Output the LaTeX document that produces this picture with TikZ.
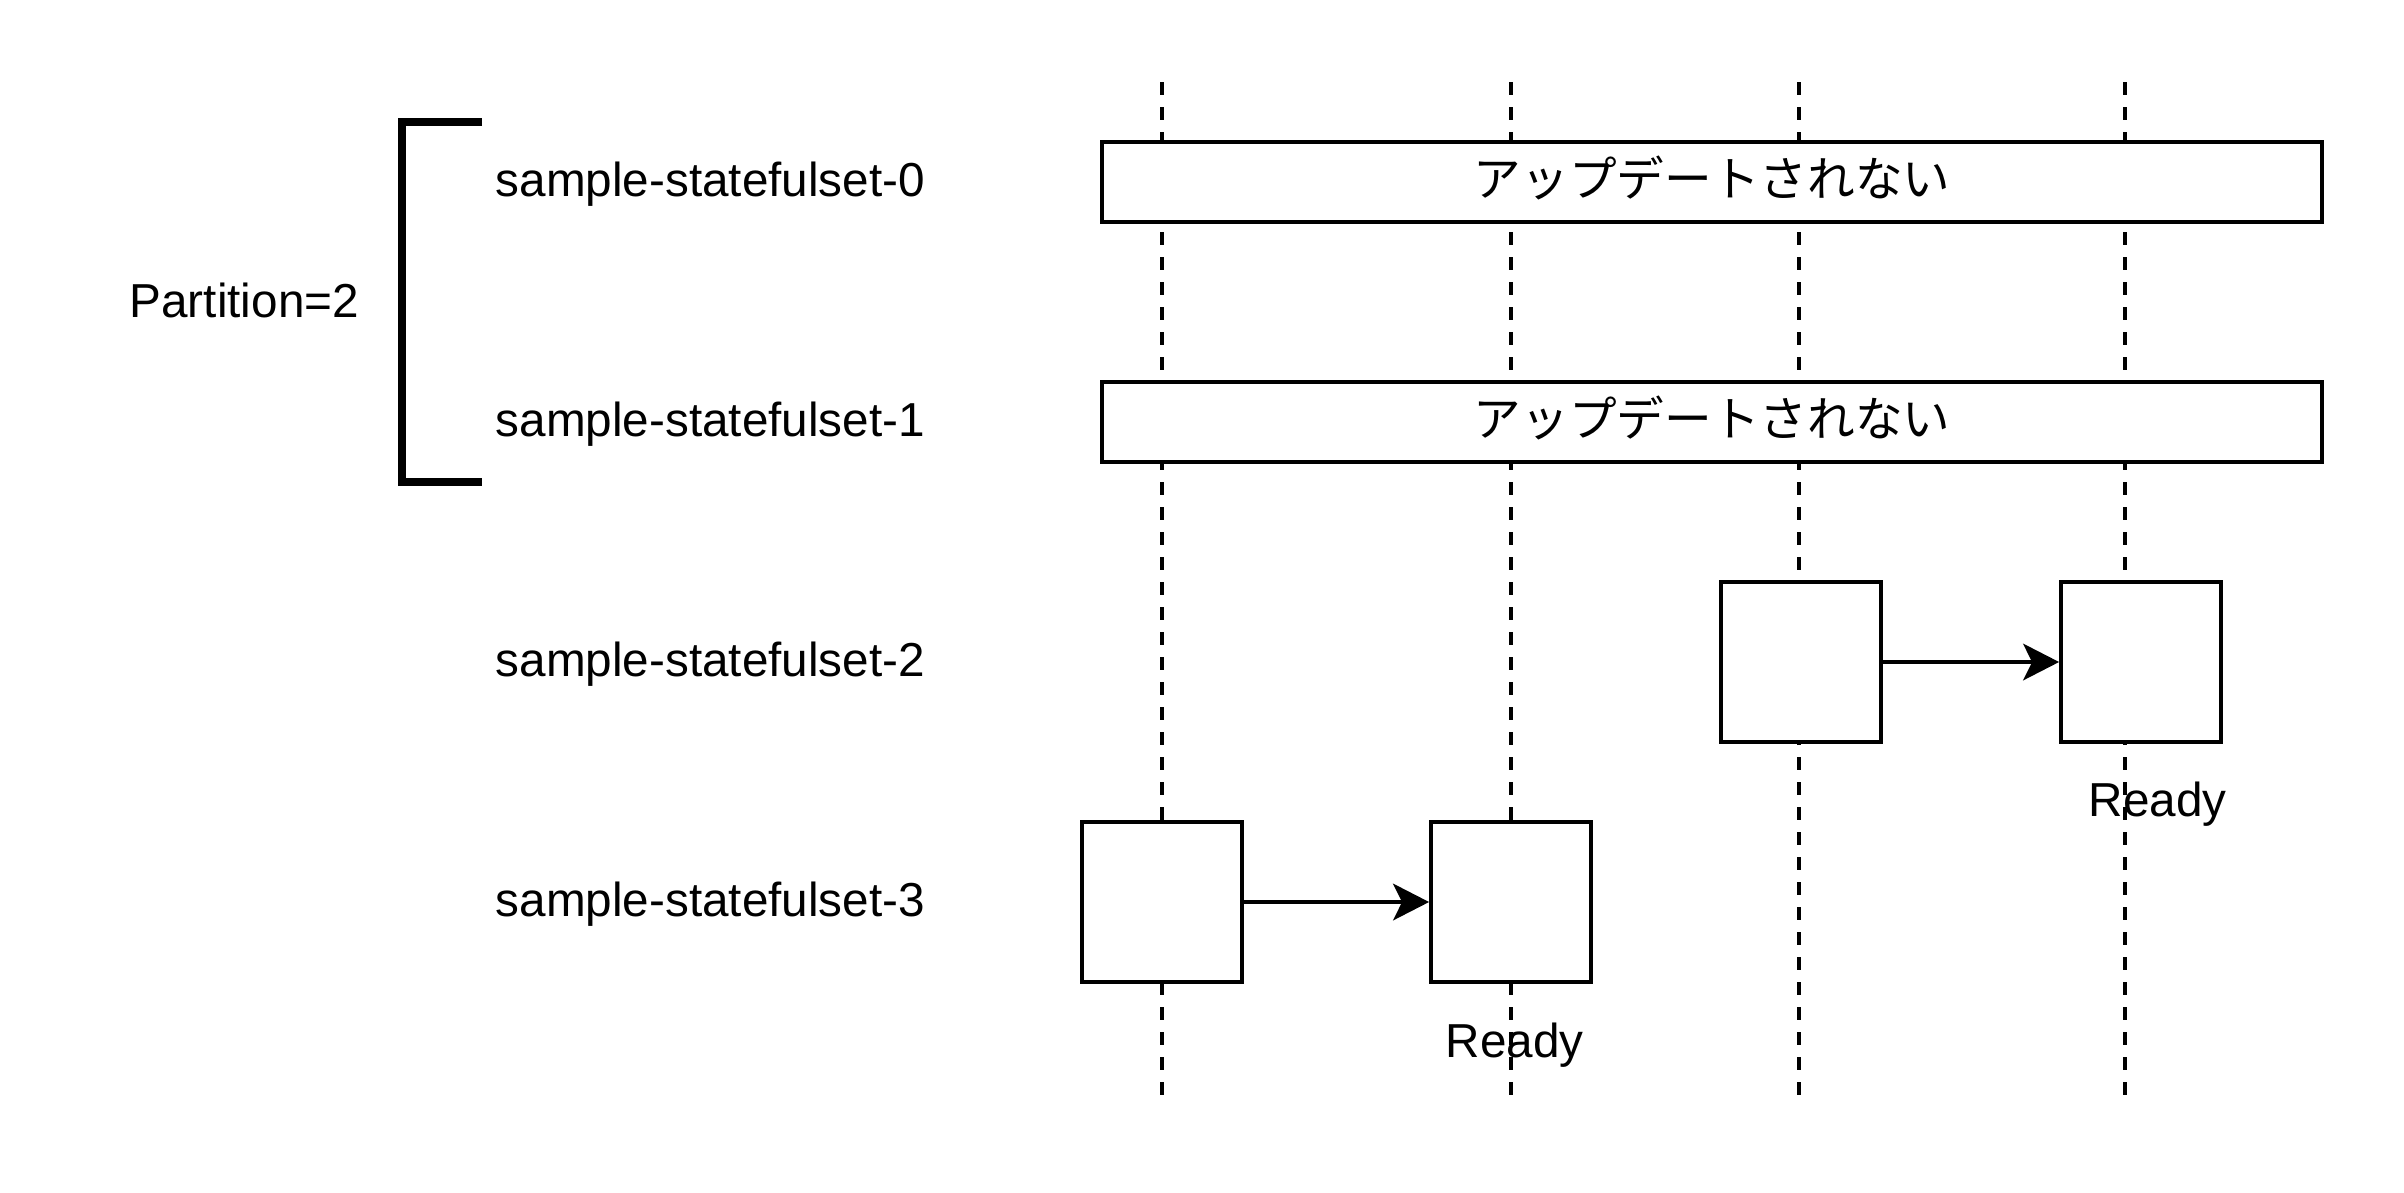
\documentclass[tikz,border=0pt]{standalone}
\usepackage{fontspec}
\setmainfont{Liberation Sans}
\newfontfamily\jpfont{Noto Sans CJK JP}
\usepackage{tikz}
\usetikzlibrary{arrows.meta}

\begin{document}
\begin{tikzpicture}[x=0.3pt,y=0.3pt,yscale=-1,xscale=1,
        lane/.style={line width=1.3pt, dash pattern=on 3.75pt off 3.75pt},
        podbox/.style={draw, fill=white, line width=1.15pt, minimum width=48pt, minimum height=48pt, inner sep=0pt},
        skipbox/.style={draw, fill=white, line width=1.15pt, minimum width=366pt, minimum height=24pt, inner sep=0pt, text height=0.9em, text depth=0.05em, font=\jpfont\fontsize{14.3}{17}\selectfont},
        txt/.style={inner sep=0pt, font=\fontsize{14.3}{17}\selectfont},
        roll/.style={line width=1.1pt, -{Stealth[length=10.8pt,width=11pt,inset=2.7pt]}}]
            \useasboundingbox (0,0) rectangle (2404,1192);

            %Straight Lines [id:lane0]
            \coordinate (lt0) at (1162,82); \coordinate (lb0) at (1162,1101);
            \draw [lane] (lt0) -- (lb0) ;
            %Straight Lines [id:lane1]
            \coordinate (lt1) at (1511,82); \coordinate (lb1) at (1511,1101);
            \draw [lane] (lt1) -- (lb1) ;
            %Straight Lines [id:lane2]
            \coordinate (lt2) at (1799,82); \coordinate (lb2) at (1799,1101);
            \draw [lane] (lt2) -- (lb2) ;
            %Straight Lines [id:lane3]
            \coordinate (lt3) at (2125,82); \coordinate (lb3) at (2125,1101);
            \draw [lane] (lt3) -- (lb3) ;

            %Shape: Bracket [id:partition]
            \coordinate (brtop) at (482,122); \coordinate (brtl) at (402,122);
            \coordinate (brbl) at (402,482); \coordinate (brbot) at (482,482);
            \draw [line width=2.25pt, line join=miter] (brtop) -- (brtl) -- (brbl) -- (brbot) ;

            %Shape: Rectangle [id:skip0]
            \node (skip0) [skipbox] at (1712,182) {アップデートされない};
            %Shape: Rectangle [id:skip1]
            \node (skip1) [skipbox] at (1712,422) {アップデートされない};

            %Shape: Square [id:pod2old]
            \node (pod2old) [podbox] at (1801,662) {};
            %Shape: Square [id:pod2new]
            \node (pod2new) [podbox] at (2141,662) {};
            %Shape: Square [id:pod3old]
            \node (pod3old) [podbox] at (1162,902) {};
            %Shape: Square [id:pod3new]
            \node (pod3new) [podbox] at (1511,902) {};

            %Straight Lines [id:roll2]
            \draw [roll] (pod2old) -- (pod2new) ;
            %Straight Lines [id:roll3]
            \draw [roll] (pod3old) -- (pod3new) ;

            % Text Node
            \draw (129,317) node (part) [txt, anchor=base west] {Partition=2};
            % Text Node
            \draw (495,196.5) node (set0) [txt, anchor=base west] {sample-statefulset-0};
            % Text Node
            \draw (495,436.5) node (set1) [txt, anchor=base west] {sample-statefulset-1};
            % Text Node
            \draw (495,676.5) node (set2) [txt, anchor=base west] {sample-statefulset-2};
            % Text Node
            \draw (495,916.5) node (set3) [txt, anchor=base west] {sample-statefulset-3};
            % Text Node
            \draw (2088,816) node (ready2) [txt, anchor=base west] {Ready};
            % Text Node
            \draw (1445,1057) node (ready3) [txt, anchor=base west] {Ready};

\end{tikzpicture}
\end{document}
